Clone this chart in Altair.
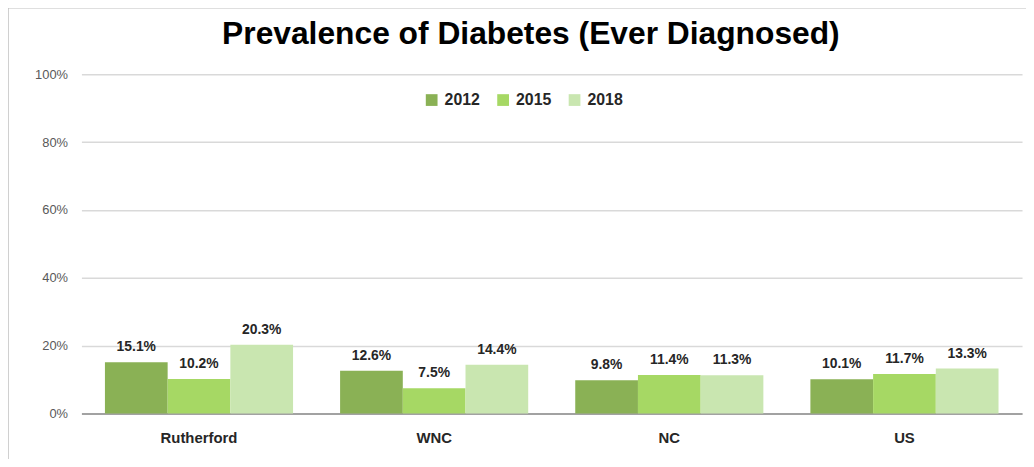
import altair as alt
import pandas as pd

regions = ["Rutherford", "WNC", "NC", "US"]
years = ["2012", "2015", "2018"]
v2012 = [0.151, 0.126, 0.098, 0.101]
v2015 = [0.102, 0.075, 0.114, 0.117]
v2018 = [0.203, 0.144, 0.113, 0.133]
colors = ["#8AB155", "#A6D864", "#C9E6B0"]

rows = []
for i, r in enumerate(regions):
    for y, vals in zip(years, [v2012, v2015, v2018]):
        rows.append({"region": r, "year": y, "value": vals[i]})
df = pd.DataFrame(rows)

FONT = "Liberation Sans"

x = alt.X("region:N", sort=regions, title=None,
          scale=alt.Scale(paddingInner=0.2, paddingOuter=0.1),
          axis=alt.Axis(labelAngle=0, labelFont=FONT, labelFontSize=15, labelFontWeight="bold",
                        labelColor="#262626", labelPadding=17, ticks=False,
                        domainColor="#8c8c8c", domainWidth=1.5, grid=False))
xo = alt.XOffset("year:N", sort=years, scale=alt.Scale(paddingInner=0, paddingOuter=0))
y = alt.Y("value:Q", title=None,
          scale=alt.Scale(domain=[0, 1]),
          axis=alt.Axis(format="%", values=[0, 0.2, 0.4, 0.6, 0.8, 1.0], labelFont=FONT,
                        labelFontSize=13, labelColor="#595959", labelPadding=14, ticks=False,
                        domain=False, gridColor="#d9d9d9", gridWidth=1.5))

bars = alt.Chart(df).mark_bar().encode(
    x=x, xOffset=xo, y=y,
    color=alt.Color("year:N", sort=years, scale=alt.Scale(domain=years, range=colors),
                    legend=alt.Legend(title=None, orient="none", legendX=345, legendY=18,
                                      direction="horizontal", symbolType="square", symbolSize=140,
                                      symbolStrokeWidth=0, labelFont=FONT, labelFontSize=16,
                                      labelFontWeight="bold", labelColor="#262626",
                                      columnPadding=15, labelOffset=5)),
)

labels = alt.Chart(df).mark_text(baseline="alphabetic", dy=-11, font=FONT, fontSize=14,
                                 fontWeight="bold", color="#262626").encode(
    x=x, xOffset=xo, y=y, text=alt.Text("value:Q", format=".1%"),
)

border = alt.Chart(pd.DataFrame({"k": [0]})).mark_rect(fill=None, stroke="#c0c0c0", strokeWidth=1.5).encode(
    x=alt.value(-74), x2=alt.value(1000), y=alt.value(-67), y2=alt.value(420)
)

chart = alt.layer(border, bars, labels).properties(
    width=948, height=342,
    autosize=alt.AutoSizeParams(type="none"),
    padding={"left": 74, "top": 65, "right": 4, "bottom": 44},
    title=alt.Title("Prevalence of Diabetes (Ever Diagnosed)", font=FONT, fontSize=32,
                    fontWeight="bold", color="#000000", anchor="middle", dx=-21, offset=-44),
).configure_view(stroke=None)

chart.save("out.html", embed_options={"renderer": "svg", "actions": False})
